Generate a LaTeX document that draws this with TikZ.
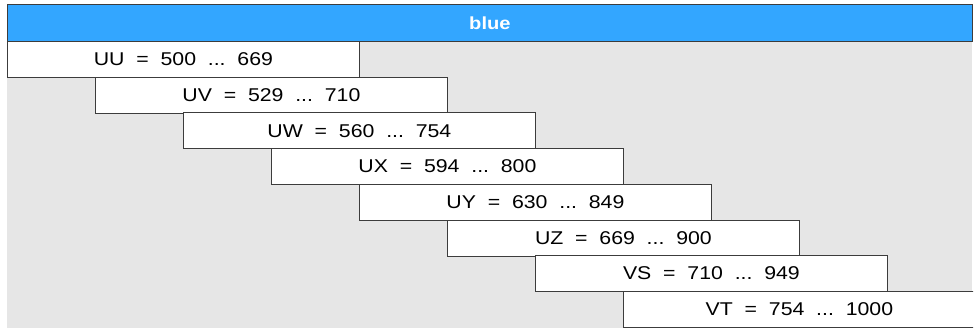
\documentclass[tikz,border=0pt]{standalone}
\usepackage{fontspec}
\setmainfont{Liberation Sans}
\newfontfamily\rangefont{Liberation Sans}[FakeStretch=1.15]
\usetikzlibrary{positioning}
\definecolor{headblue}{RGB}{51,166,255}
\definecolor{panelgrey}{RGB}{230,230,230}
\definecolor{edgegrey}{RGB}{60,60,60}

\tikzset{
  rangebox/.style={draw=edgegrey, fill=white, line width=0.8pt, anchor=north west,
    minimum width=352pt, minimum height=36pt, inner sep=0pt,
    font=\rangefont\fontsize{18.5}{21}\selectfont},
  headbox/.style={draw=edgegrey, fill=headblue, line width=0.8pt, anchor=north west,
    minimum width=965pt, minimum height=37pt, inner sep=0pt, text=white,
    font=\rangefont\bfseries\fontsize{17.5}{20}\selectfont}
}

\begin{document}
\begin{tikzpicture}[x=1pt,y=1pt]
  \useasboundingbox (0,0) rectangle (979,-327);
  \clip (6,-3) rectangle (973,-327);
  % grey panel behind the ranges
  \fill[panelgrey] (7,-41) rectangle (972,-330);
  \node[headbox] (head) at (7,-4) {blue};
  % one row per range, shifted right and down
  \foreach \nm/\lo/\hi [count=\i from 0] in {UU/500/669, UV/529/710, UW/560/754,
      UX/594/800, UY/630/849, UZ/669/900, VS/710/949, VT/754/1000}
    \node[rangebox] (r\i) at (7+88*\i, -41-35.7*\i) {\nm~~=~~\lo~~...~~\hi};
\end{tikzpicture}
\end{document}
